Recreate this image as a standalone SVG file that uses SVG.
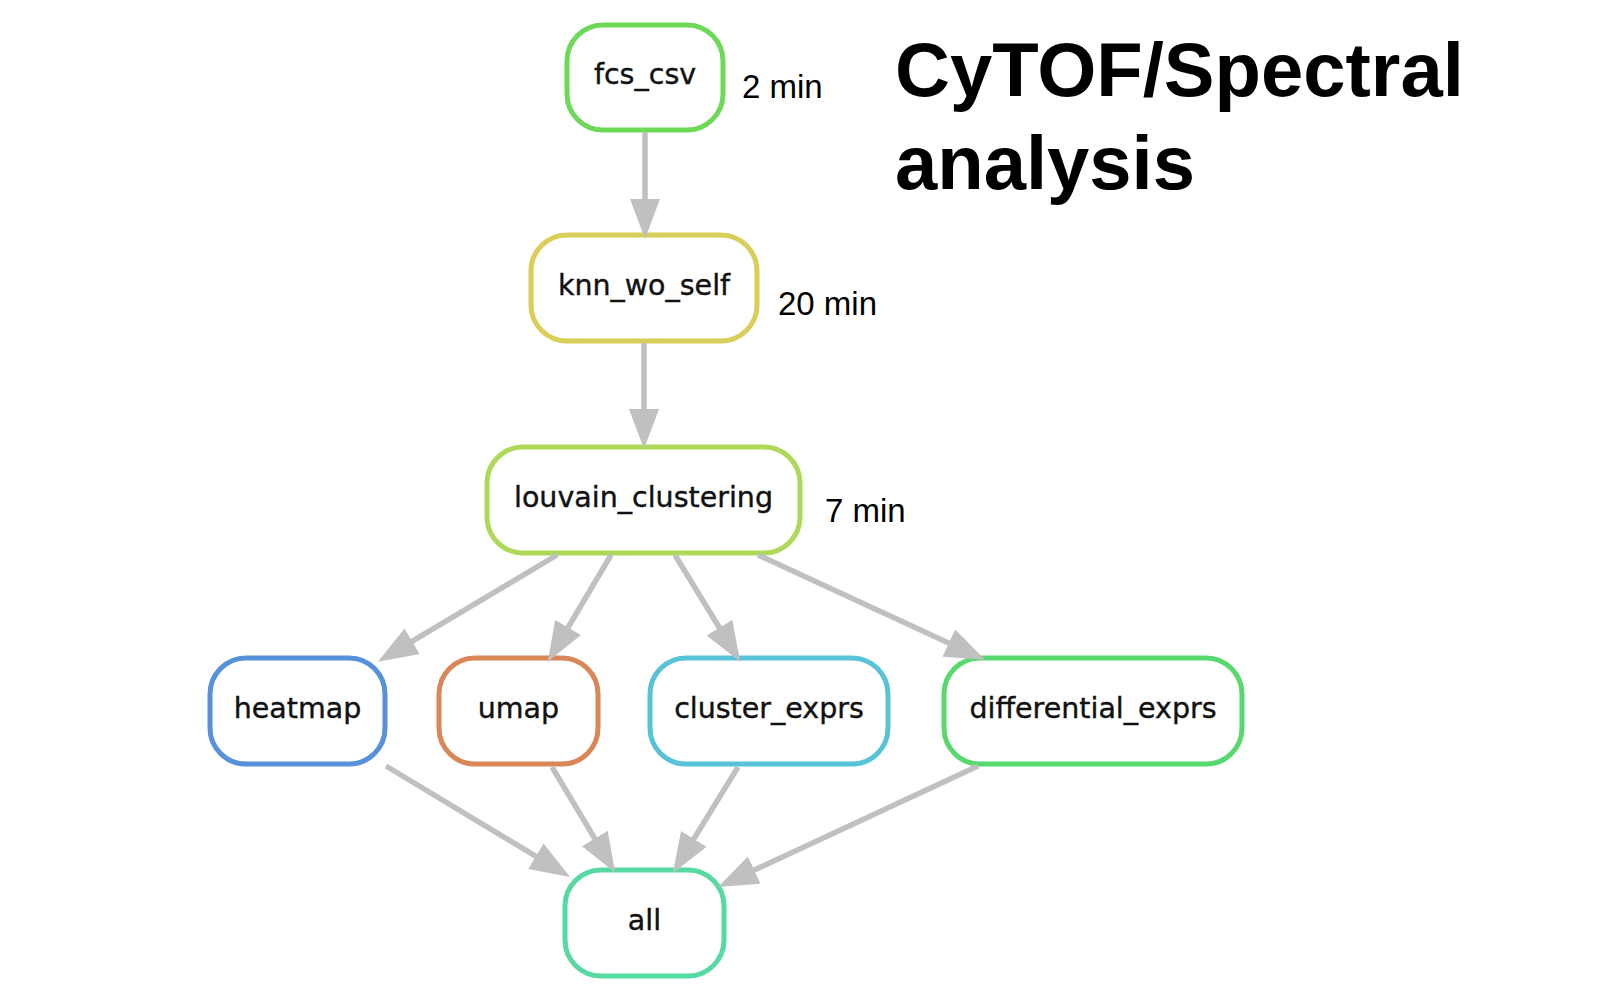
<svg xmlns="http://www.w3.org/2000/svg" width="1622" height="1007" viewBox="0 0 1622 1007">
<style>
.node rect{fill:#fff;stroke-width:5}
.node text{font-family:"DejaVu Sans",Verdana,sans-serif;font-size:28.5px;fill:#111;stroke:#111;stroke-width:0.4;text-anchor:middle}
.edge{stroke:#c0c0c0;stroke-width:5.5;fill:none;marker-end:url(#arr)}
.time{font-family:"Liberation Sans",Arial,sans-serif;font-size:33px;fill:#000}
.title{font-family:"Liberation Sans",Arial,sans-serif;font-size:76px;font-weight:bold;fill:#000}
</style>
<defs>
<marker id="arr" viewBox="0 0 40 30" refX="10" refY="15" markerWidth="40" markerHeight="30" markerUnits="userSpaceOnUse" orient="auto">
<path d="M0,0 L40,15 L0,30 z" fill="#c0c0c0"/>
</marker>
</defs>
<rect width="1622" height="1007" fill="#fff"/>
<g id="fcs_csv" class="node"><rect x="567" y="25" width="156" height="105" rx="36" stroke="#6dd957"/><text x="645" y="84">fcs_csv</text></g>
<g id="knn_wo_self" class="node"><rect x="531" y="235" width="226" height="106" rx="36" stroke="#d9ce57"/><text x="644" y="295">knn_wo_self</text></g>
<g id="louvain_clustering" class="node"><rect x="487" y="447" width="313" height="106" rx="36" stroke="#aed957"/><text x="643.5" y="507">louvain_clustering</text></g>
<g id="heatmap" class="node"><rect x="210" y="658" width="175" height="106" rx="36" stroke="#5791d9"/><text x="297.5" y="718">heatmap</text></g>
<g id="umap" class="node"><rect x="439" y="658" width="159" height="106" rx="36" stroke="#d98757"/><text x="518.5" y="718">umap</text></g>
<g id="cluster_exprs" class="node"><rect x="650" y="658" width="238" height="106" rx="36" stroke="#57c3d9"/><text x="769" y="718">cluster_exprs</text></g>
<g id="differential_exprs" class="node"><rect x="944" y="658" width="298" height="106" rx="36" stroke="#57d96d"/><text x="1093" y="718">differential_exprs</text></g>
<g id="all" class="node"><rect x="565" y="870" width="159" height="106" rx="36" stroke="#57d9a3"/><text x="644.5" y="930">all</text></g>
<g id="connectors">
<line class="edge" x1="645" y1="132" x2="645" y2="209"/>
<line class="edge" x1="644" y1="343" x2="644" y2="419"/>
<line class="edge" x1="557" y1="555" x2="403.6" y2="646.4"/>
<line class="edge" x1="611" y1="555" x2="563" y2="636"/>
<line class="edge" x1="675" y1="555" x2="724.6" y2="636.2"/>
<line class="edge" x1="758" y1="555" x2="957.9" y2="647.2"/>
<line class="edge" x1="386" y1="766" x2="544.4" y2="861.4"/>
<line class="edge" x1="552" y1="767" x2="599.9" y2="847.1"/>
<line class="edge" x1="738" y1="767" x2="688.6" y2="847.4"/>
<line class="edge" x1="978" y1="766" x2="745.2" y2="874.3"/>
</g>
<g id="labels">
<text class="time" x="742" y="98">2 min</text>
<text class="time" x="778" y="315">20 min</text>
<text class="time" x="825" y="522">7 min</text>
<text class="title" x="895" y="96">CyTOF/Spectral</text>
<text class="title" x="895" y="189">analysis</text>
</g>
</svg>
